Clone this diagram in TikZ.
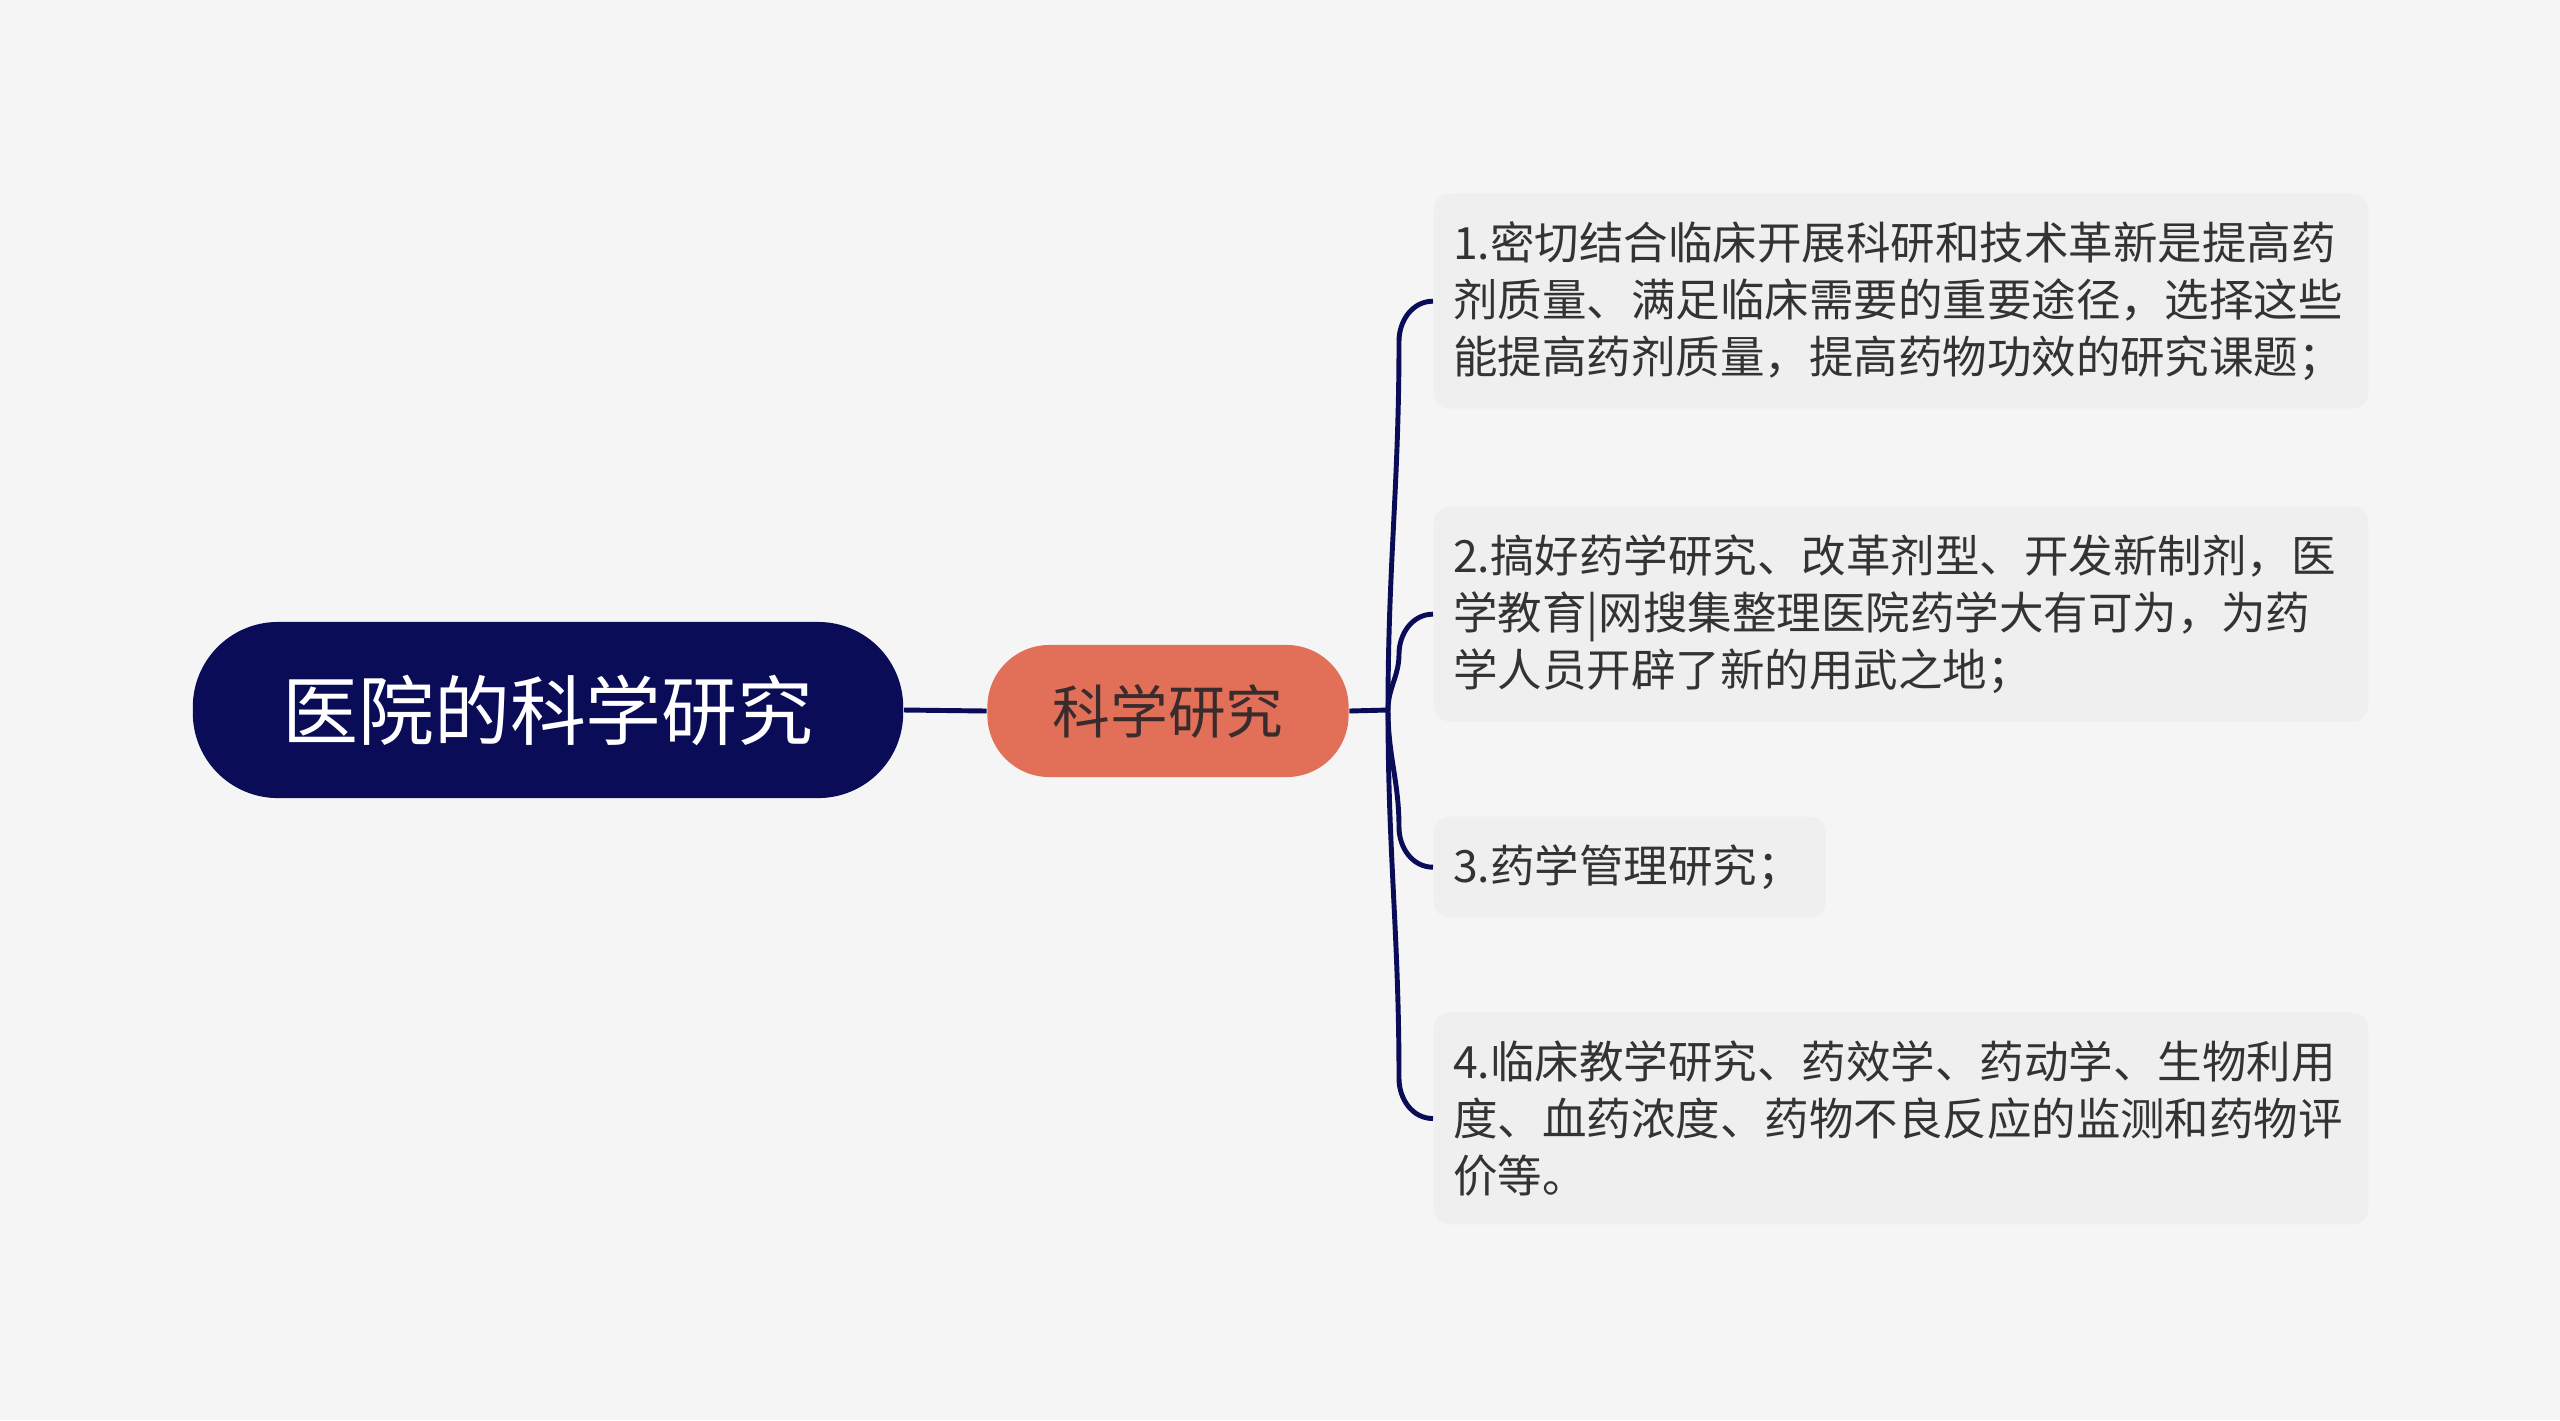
\documentclass[tikz,border=0pt]{standalone}
\usepackage{fontspec}
\setmainfont{Noto Sans CJK SC}
\definecolor{bgcol}{HTML}{F5F5F5}
\definecolor{navy}{HTML}{0A0C58}
\definecolor{coral}{HTML}{E26F58}
\definecolor{topicink}{HTML}{3A2C2C}
\definecolor{leafbg}{HTML}{EFEFEF}
\definecolor{ink}{HTML}{333333}

\begin{document}
\begin{tikzpicture}[x=0.01cm, y=-0.01cm,
  rootbox/.style={fill=navy, text=white, rounded corners=0.85cm, minimum width=7.1cm, minimum height=1.76cm, inner sep=0pt, font=\fontsize{21.6}{26}\selectfont},
  topicbox/.style={fill=coral, text=topicink, rounded corners=0.62cm, minimum width=3.61cm, minimum height=1.32cm, inner sep=0pt, font=\fontsize{16.4}{20}\selectfont},
  itembox/.style={fill=leafbg, text=ink, rounded corners=0.16cm, anchor=north west, align=left, text width=8.95cm, inner xsep=0.195cm, inner ysep=0.28cm, font=\fontsize{12.65}{16.2}\selectfont},
  link/.style={draw=navy, line width=1.4pt}]
  \fill[bgcol] (0,0) rectangle (2560,1420);
  \node[rootbox] (root) at (548,710) {医院的科学研究};
  \node[topicbox] (topic) at (1168,711) {科学研究};
  \node[itembox] (item1) at (1433,193) {1.密切结合临床开展科研和技术革新是提高药\\剂质量、满足临床需要的重要途径，选择这些\\能提高药剂质量，提高药物功效的研究课题；};
  \node[itembox] (item2) at (1433,506) {2.搞好药学研究、改革剂型、开发新制剂，医\\学教育|网搜集整理医院药学大有可为，为药\\学人员开辟了新的用武之地；};
  \node[itembox, text width=3.53cm] (item3) at (1433,816) {3.药学管理研究；};
  \node[itembox] (item4) at (1433,1012) {4.临床教学研究、药效学、药动学、生物利用\\度、血药浓度、药物不良反应的监测和药物评\\价等。};
  \coordinate (hub) at (1388,710);
  % Draw the branches
  \draw[link] (root.east) -- (topic.west);
  \draw[link] (topic.east) -- (hub);
  \draw[link] (hub) to[out=90,in=-90] ([shift={(-34,40)}]item1.west) to[out=90,in=180] (item1.west);
  \draw[link] (hub) to[out=90,in=-90] ([shift={(-34,40)}]item2.west) to[out=90,in=180] (item2.west);
  \draw[link] (hub) to[out=-90,in=90] ([shift={(-34,-40)}]item3.west) to[out=-90,in=180] (item3.west);
  \draw[link] (hub) to[out=-90,in=90] ([shift={(-34,-40)}]item4.west) to[out=-90,in=180] (item4.west);
\end{tikzpicture}
\end{document}
